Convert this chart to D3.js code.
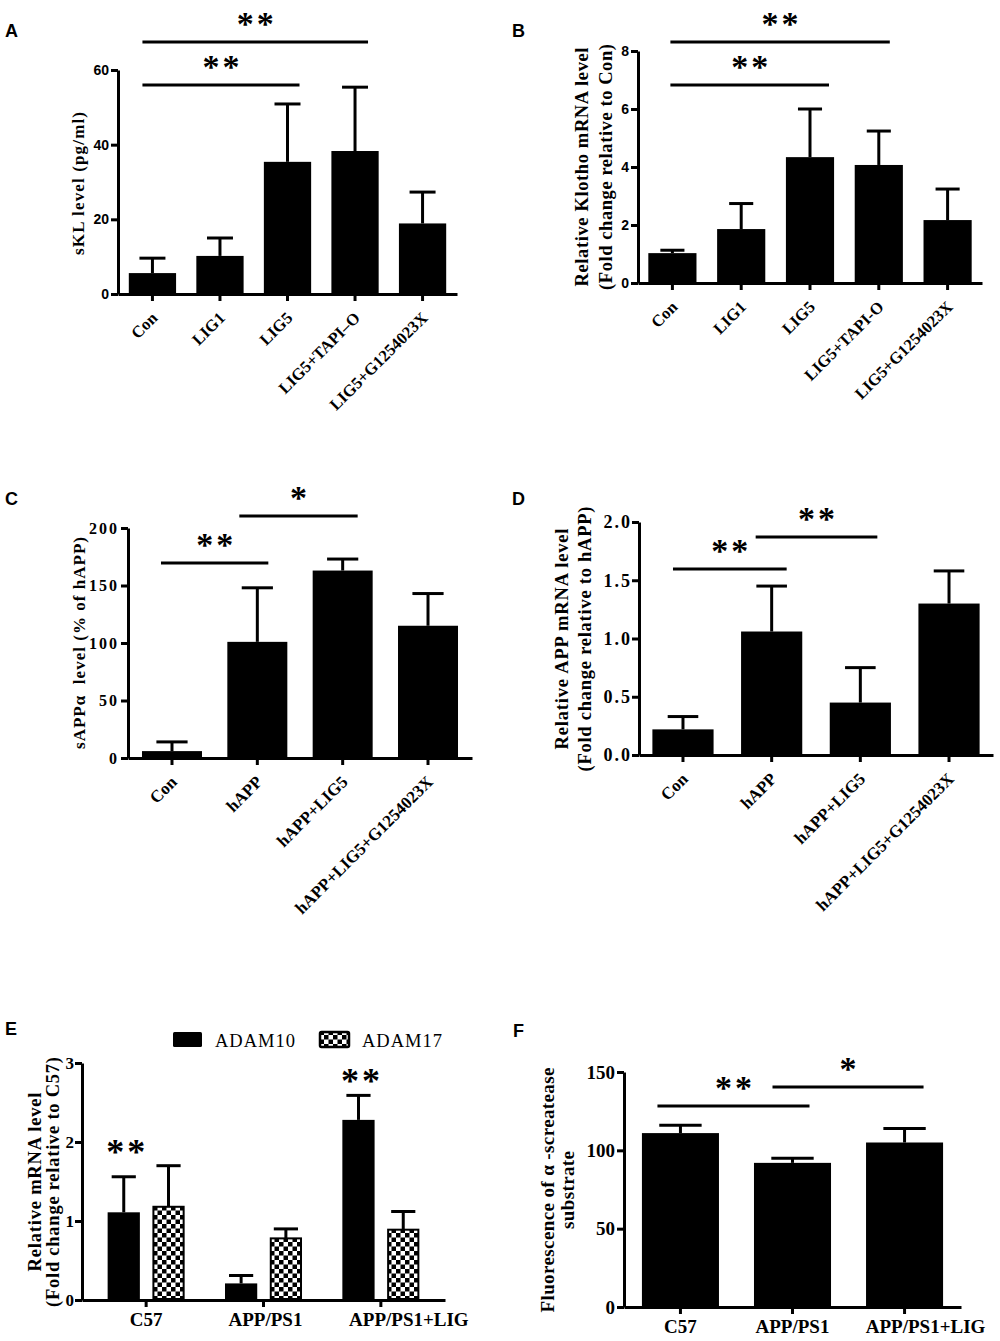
<!DOCTYPE html>
<html><head><meta charset="utf-8">
<script src="https://cdn.jsdelivr.net/npm/d3@7"></script>
<style>body{margin:0;background:#fff} text{white-space:pre}</style>
</head><body>
<svg id="fig" width="1000" height="1341" xmlns="http://www.w3.org/2000/svg"></svg>
<script>
// ---------------- DATA ----------------
const catsA = ["Con", "LIG1", "LIG5", "LIG5+TAPI\u2013O", "LIG5+G1254023X"];
const meanA = [5.6, 10.2, 35.4, 38.3, 18.9];
const semA  = [4.0, 4.8, 15.5, 17.1, 8.4];
const ticksA = [0, 20, 40, 60];
const sigA = [{from: 0, to: 2, label: "**"}, {from: 0, to: 3, label: "**"}];

const catsB = ["Con", "LIG1", "LIG5", "LIG5+TAPI-O", "LIG5+G1254023X"];
const meanB = [1.03, 1.86, 4.34, 4.07, 2.17];
const semB  = [0.10, 0.88, 1.66, 1.17, 1.07];
const ticksB = [0, 2, 4, 6, 8];
const sigB = [{from: 0, to: 2, label: "**"}, {from: 0, to: 3, label: "**"}];

const catsC = ["Con", "hAPP", "hAPP+LIG5", "hAPP+LIG5+G1254023X"];
const meanC = [6, 101, 163, 115];
const semC  = [8, 47, 10, 28];
const ticksC = [0, 50, 100, 150, 200];
const sigC = [{from: 0, to: 1, label: "**"}, {from: 1, to: 2, label: "*"}];

const catsD = ["Con", "hAPP", "hAPP+LIG5", "hAPP+LIG5+G1254023X"];
const meanD = [0.22, 1.06, 0.45, 1.30];
const semD  = [0.11, 0.39, 0.30, 0.28];
const ticksD = [0, 0.5, 1.0, 1.5, 2.0];
const sigD = [{from: 0, to: 1, label: "**"}, {from: 1, to: 2, label: "**"}];

const catsE = ["C57", "APP/PS1", "APP/PS1+LIG"];
const seriesE = ["ADAM10", "ADAM17"];
const adam10 = [1.11, 0.21, 2.28];
const sem10  = [0.45, 0.10, 0.31];
const adam17 = [1.18, 0.78, 0.89];
const sem17  = [0.52, 0.12, 0.23];
const ticksE = [0, 1, 2, 3];
const starsE = [{cat: "C57", series: "ADAM10", label: "**"}, {cat: "APP/PS1+LIG", series: "ADAM10", label: "**"}];

const catsF = ["C57", "APP/PS1", "APP/PS1+LIG"];
const meanF = [111, 92, 105];
const semF  = [5, 3, 9];
const ticksF = [0, 50, 100, 150];
const sigF = [{from: 0, to: 1, label: "**"}, {from: 1, to: 2, label: "*"}];

// ---------------- DRAWING ----------------
const SERIF = "'Liberation Serif','Times New Roman',serif";
const SANS = "'Liberation Sans',Arial,sans-serif";
const svg = d3.select("#fig");

const defs = svg.append("defs");
const pat = defs.append("pattern").attr("id", "checker").attr("patternUnits", "userSpaceOnUse")
  .attr("width", 9).attr("height", 9);
pat.append("rect").attr("width", 9).attr("height", 9).attr("fill", "#fff");
pat.append("rect").attr("width", 4.5).attr("height", 4.5).attr("fill", "#000");
pat.append("rect").attr("x", 4.5).attr("y", 4.5).attr("width", 4.5).attr("height", 4.5).attr("fill", "#000");

function letter(t, x, y) {
  svg.append("text").attr("x", x).attr("y", y).text(t)
    .attr("font-family", SANS).attr("font-weight", "bold").attr("font-size", 18).attr("fill", "#000");
}

function star(g, label, cx, cy, fs) {
  g.append("text").attr("x", cx + (label.length > 1 ? 1.5 : 0)).attr("y", cy + 0.47 * fs)
    .attr("text-anchor", "middle").attr("font-family", SERIF).attr("font-weight", "bold")
    .attr("font-size", fs).attr("letter-spacing", label.length > 1 ? 3 : 0).attr("fill", "#000").text(label);
}

function yAxis(g, y, c) {
  const ya = d3.axisLeft(y).tickValues(c.ticks).tickSize(7).tickSizeOuter(0)
    .tickPadding(c.tickPad).tickFormat(c.fmt);
  const yg = g.append("g").attr("transform", `translate(${c.x0},0)`).call(ya);
  yg.attr("font-size", null).attr("font-family", null);
  yg.selectAll("path,line").attr("stroke", "#000").attr("stroke-width", 3);
  yg.selectAll("text").attr("font-family", c.tickFamily).attr("font-weight", "bold")
    .attr("font-size", c.tickSize).attr("letter-spacing", c.tickLS || 0).attr("fill", "#000");
}

function xAxis(g, x, c) {
  const xa = d3.axisBottom(x).tickSize(7).tickSizeOuter(0).tickFormat("");
  const xg = g.append("g").attr("transform", `translate(0,${c.yZero})`).call(xa);
  xg.selectAll("path,line").attr("stroke", "#000").attr("stroke-width", 3);
}

function yTitle(g, c) {
  c.title.forEach((t, i) => {
    g.append("text").attr("transform", `translate(${c.titleX[i]},${c.titleY}) rotate(-90)`)
      .attr("dy", "0.35em").attr("text-anchor", "middle")
      .attr("font-family", SERIF).attr("font-weight", "bold").attr("font-size", c.titleSize)
      .attr("textLength", c.titleLen[i]).attr("lengthAdjust", "spacing")
      .attr("fill", "#000").text(t);
  });
}

function barPanel(c) {
  const g = svg.append("g");
  const x = d3.scaleBand().domain(c.cats).range([c.x0, c.x1]).paddingInner(c.pi).paddingOuter(c.po);
  const y = d3.scaleLinear().domain([0, c.max]).range([c.yZero, c.yTop]);
  const cx = i => x(c.cats[i]) + x.bandwidth() / 2;
  const rows = c.cats.map((k, i) => ({k, m: c.means[i], s: c.sems[i], i}));

  g.selectAll("rect.bar").data(rows).join("rect").attr("class", "bar")
    .attr("x", d => x(d.k)).attr("width", x.bandwidth())
    .attr("y", d => y(d.m)).attr("height", d => y(0) - y(d.m)).attr("fill", "#000");
  const cap = x.bandwidth() * c.capFrac;
  g.selectAll("line.err").data(rows).join("line").attr("class", "err")
    .attr("x1", d => cx(d.i)).attr("x2", d => cx(d.i))
    .attr("y1", d => y(d.m)).attr("y2", d => y(d.m + d.s))
    .attr("stroke", "#000").attr("stroke-width", 3);
  g.selectAll("line.cap").data(rows).join("line").attr("class", "cap")
    .attr("x1", d => cx(d.i) - cap / 2).attr("x2", d => cx(d.i) + cap / 2)
    .attr("y1", d => y(d.m + d.s)).attr("y2", d => y(d.m + d.s))
    .attr("stroke", "#000").attr("stroke-width", 3);

  yAxis(g, y, c);
  xAxis(g, x, c);
  yTitle(g, c);

  if (c.rotLabels) {
    g.selectAll("text.xl").data(rows).join("text").attr("class", "xl")
      .attr("transform", d => `translate(${cx(d.i) + 6},${c.yZero + 25}) rotate(-45)`)
      .attr("text-anchor", "end").attr("font-family", SERIF).attr("font-weight", "bold")
      .attr("font-size", c.labSize).attr("fill", "#000").text(d => d.k);
  } else {
    g.selectAll("text.xl").data(rows).join("text").attr("class", "xl")
      .attr("x", d => cx(d.i) + (c.labDx ? c.labDx[d.i] : 0)).attr("y", c.yZero + c.labDy)
      .attr("text-anchor", "middle").attr("font-family", SERIF).attr("font-weight", "bold")
      .attr("font-size", c.labSize).attr("fill", "#000").text(d => d.k);
  }

  c.sig.forEach((s, i) => {
    const L = c.sigLayout[i];
    const xa = cx(s.from) + L.dx1, xb = cx(s.to) + L.dx2, yy = y(L.at);
    g.append("line").attr("x1", xa).attr("x2", xb).attr("y1", yy).attr("y2", yy)
      .attr("stroke", "#000").attr("stroke-width", 3);
    star(g, s.label, (xa + xb) / 2, yy - 23, 34);
  });
}

// Panel A
barPanel({cats: catsA, means: meanA, sems: semA, ticks: ticksA, max: 60, fmt: d3.format("d"),
  x0: 118, x1: 457, yTop: 70, yZero: 294, pi: 0.3, po: 0.16, capFrac: 0.55,
  tickFamily: SANS, tickSize: 14, tickPad: 2,
  title: ["sKL level (pg/ml)"], titleX: [78], titleY: 183.5, titleLen: [143], titleSize: 17,
  rotLabels: true, labSize: 16.5,
  sig: sigA, sigLayout: [{dx1: -10, dx2: 12, at: 56}, {dx1: -10, dx2: 13, at: 67.5}]});

// Panel B
barPanel({cats: catsB, means: meanB, sems: semB, ticks: ticksB, max: 8, fmt: d3.format("d"),
  x0: 638, x1: 982, yTop: 51, yZero: 283, pi: 0.3, po: 0.15, capFrac: 0.5,
  tickFamily: SANS, tickSize: 14, tickPad: 2,
  title: ["Relative Klotho mRNA level", "(Fold change relative to Con)"], titleX: [582, 606],
  titleY: 167, titleLen: [239, 246], titleSize: 18.5,
  rotLabels: true, labSize: 16.5,
  sig: sigB, sigLayout: [{dx1: -2, dx2: 19, at: 6.83}, {dx1: -2, dx2: 11, at: 8.31}]});

// Panel C
barPanel({cats: catsC, means: meanC, sems: semC, ticks: ticksC, max: 200, fmt: d3.format("d"),
  x0: 128, x1: 472, yTop: 528, yZero: 758, pi: 0.297, po: 0.164, capFrac: 0.52,
  tickFamily: SERIF, tickSize: 16, tickPad: 2, tickLS: 2,
  title: ["sAPP\u03b1  level (% of hAPP)"], titleX: [79], titleY: 643, titleLen: [212], titleSize: 17,
  rotLabels: true, labSize: 17,
  sig: sigC, sigLayout: [{dx1: -11, dx2: 11, at: 169.6}, {dx1: -18, dx2: 15, at: 210.4}]});

// Panel D
barPanel({cats: catsD, means: meanD, sems: semD, ticks: ticksD, max: 2, fmt: d3.format(".1f"),
  x0: 639, x1: 993, yTop: 522, yZero: 755, pi: 0.31, po: 0.151, capFrac: 0.5,
  tickFamily: SERIF, tickSize: 18, tickPad: 0, tickLS: 2,
  title: ["Relative APP mRNA level", "(Fold change relative to hAPP)"], titleX: [562, 585],
  titleY: 639, titleLen: [221, 265], titleSize: 18.5,
  rotLabels: true, labSize: 17,
  sig: sigD, sigLayout: [{dx1: -10, dx2: 15, at: 1.597}, {dx1: -16, dx2: 17, at: 1.871}]});

// Panel F
barPanel({cats: catsF, means: meanF, sems: semF, ticks: ticksF, max: 150, fmt: d3.format("d"),
  x0: 624, x1: 961, yTop: 1072, yZero: 1307, pi: 0.3125, po: 0.16, capFrac: 0.55,
  tickFamily: SERIF, tickSize: 19, tickPad: 2,
  title: ["Fluorescence of \u03b1 -screatease", "substrate"], titleX: [547, 567],
  titleY: 1190, titleLen: [245, 78], titleSize: 19,
  rotLabels: false, labSize: 19, labDy: 26, labDx: [0, 0, 21],
  sig: sigF, sigLayout: [{dx1: -23, dx2: 17, at: 128.3}, {dx1: -20, dx2: 19, at: 140.4}]});

// Panel E (grouped)
(function () {
  const c = {ticks: ticksE, fmt: d3.format("d"), x0: 82, x1: 445, yTop: 1063, yZero: 1300,
    tickFamily: SERIF, tickSize: 17, tickPad: 1,
    title: ["Relative mRNA level", "(Fold change relative to C57)"], titleX: [35, 53],
    titleY: 1182, titleLen: [179, 250], titleSize: 18.5};
  const labDx = [0, 2, 28];
  const g = svg.append("g");
  const x = d3.scaleBand().domain(catsE).range([c.x0, c.x1]).paddingInner(0.237).paddingOuter(0.165);
  const xs = d3.scaleBand().domain(seriesE).range([0, x.bandwidth()]).paddingInner(0.28).paddingOuter(0.14);
  const y = d3.scaleLinear().domain([0, 3]).range([c.yZero, c.yTop]);
  const vals = {ADAM10: adam10, ADAM17: adam17};
  const sems = {ADAM10: sem10, ADAM17: sem17};
  const rows = [];
  catsE.forEach((k, i) => seriesE.forEach(s => rows.push({k, s, m: vals[s][i], e: sems[s][i]})));
  const bx = d => x(d.k) + xs(d.s);
  const bc = d => bx(d) + xs.bandwidth() / 2;

  g.selectAll("line.err").data(rows).join("line").attr("class", "err")
    .attr("x1", bc).attr("x2", bc).attr("y1", d => y(d.m)).attr("y2", d => y(d.m + d.e))
    .attr("stroke", "#000").attr("stroke-width", 3);
  const cap = xs.bandwidth() * 0.75;
  g.selectAll("line.cap").data(rows).join("line").attr("class", "cap")
    .attr("x1", d => bc(d) - cap / 2).attr("x2", d => bc(d) + cap / 2)
    .attr("y1", d => y(d.m + d.e)).attr("y2", d => y(d.m + d.e))
    .attr("stroke", "#000").attr("stroke-width", 3);
  g.selectAll("rect.bar").data(rows).join("rect").attr("class", "bar")
    .attr("x", d => bx(d) + (d.s === "ADAM17" ? 1 : 0)).attr("width", d => xs.bandwidth() - (d.s === "ADAM17" ? 2 : 0))
    .attr("y", d => y(d.m)).attr("height", d => y(0) - y(d.m) - (d.s === "ADAM17" ? 1 : 0))
    .attr("fill", d => d.s === "ADAM10" ? "#000" : "url(#checker)")
    .attr("stroke", "#000").attr("stroke-width", d => d.s === "ADAM17" ? 2 : 0);

  yAxis(g, y, c);
  xAxis(g, x, c);
  yTitle(g, c);

  g.selectAll("text.xl").data(catsE).join("text").attr("class", "xl")
    .attr("x", (d, i) => x(d) + x.bandwidth() / 2 + labDx[i]).attr("y", c.yZero + 26)
    .attr("text-anchor", "middle").attr("font-family", SERIF).attr("font-weight", "bold")
    .attr("font-size", 19).attr("fill", "#000").text(d => d);

  const starLevels = [1.94, 2.84];
  starsE.forEach((s, i) => {
    star(g, s.label, x(s.cat) + xs(s.series) + xs.bandwidth() / 2 + 2, y(starLevels[i]), 36);
  });

  // legend
  const leg = g.append("g");
  const legX = [173, 320];
  seriesE.forEach((s, i) => {
    leg.append("rect").attr("x", legX[i]).attr("y", 1032).attr("width", 29).attr("height", 15)
      .attr("rx", 1.5).attr("fill", s === "ADAM10" ? "#000" : "url(#checker)")
      .attr("stroke", "#000").attr("stroke-width", s === "ADAM10" ? 0 : 2.5);
    leg.append("text").attr("x", legX[i] + 42).attr("y", 1047).attr("font-family", SERIF)
      .attr("font-size", 18.5).attr("letter-spacing", 1).attr("fill", "#000").text(s);
  });
})();

letter("A", 5, 37);
letter("B", 512, 37);
letter("C", 5, 505);
letter("D", 512, 505);
letter("E", 5, 1035);
letter("F", 513, 1037);
</script>
</body></html>
